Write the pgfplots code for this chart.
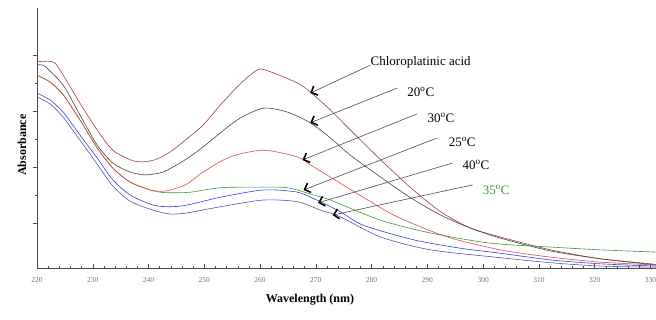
\documentclass[border=0pt]{standalone}
\usepackage{fontspec}
\setmainfont{Liberation Serif}
\usepackage{pgfplots}
\pgfplotsset{compat=1.18}
\usetikzlibrary{arrows.meta}
\definecolor{cbrown}{RGB}{160,60,60}
\definecolor{cgray}{RGB}{70,70,70}
\definecolor{cred}{RGB}{230,70,70}
\definecolor{cgreen}{RGB}{60,150,60}
\definecolor{cblue}{RGB}{60,60,220}
\definecolor{cblue2}{RGB}{90,80,170}
\begin{document}
\begin{tikzpicture}
\begin{axis}[
  scale only axis, width=619pt, height=260pt,
  xmin=220, xmax=331, ymin=0.196, ymax=4.84,
  axis x line*=bottom, axis y line*=left,
  axis line style={black!70, line width=0.5pt},
  xtick={220,230,...,330},
  minor x tick num=4,
  ytick={1,2,3,4}, yticklabels={},
  minor y tick num=1,
  tick align=outside,
  major tick length=4pt, minor tick length=2pt,
  major x tick style={yshift=4pt},
  minor x tick style={yshift=2pt},
  tick style={black!70, line width=0.4pt},
  /pgf/number format/assume math mode=true,
  /pgf/number format/1000 sep={},
  xticklabel style={font=\fontsize{7.5}{8}\selectfont, text=black!55, yshift=-2pt},
  xlabel={\textbf{Wavelength (nm)}},
  ylabel={\textbf{Absorbance}},
  label style={font=\fontsize{12}{14}\selectfont},
  xlabel style={at={(axis description cs:0.441,0)}, anchor=center, yshift=-32pt},
  ylabel style={at={(axis description cs:-0.0242,0.473)}, anchor=center},
  clip=false,
  every axis plot/.append style={line width=0.6pt, smooth, tension=0.45},
]
% Chloroplatinic acid
\addplot[cbrown] coordinates {
(220.0,3.88) (222.0,3.89) (223.2,3.86) (224.7,3.64) (227.7,3.14) (230.8,2.66)
(233.6,2.30) (236.7,2.13) (238.5,2.09) (241.2,2.13) (243.9,2.27) (246.6,2.48)
(249.8,2.75) (252.9,3.11) (255.9,3.43) (258.2,3.64) (260.0,3.75) (262.4,3.68)
(266.7,3.50) (269.0,3.34) (272.6,3.02) (276.2,2.66) (281.6,2.13) (287.0,1.63)
(292.4,1.20) (297.7,0.91) (303.1,0.75) (312.1,0.52) (321.1,0.36) (330.1,0.27) (331,0.25)};
% 20 C
\addplot[cgray] coordinates {
(220.0,3.82) (221.4,3.80) (224.7,3.46) (227.7,2.93) (230.8,2.39) (233.6,2.07)
(236.7,1.91) (239.4,1.86) (242.6,1.91) (246.6,2.13) (249.8,2.36) (255.9,2.84)
(260.6,3.05) (264.9,2.98) (269.0,2.79) (272.6,2.52) (276.2,2.21) (281.6,1.82)
(287.0,1.45) (292.4,1.14) (297.7,0.91) (303.1,0.73) (312.1,0.50) (321.1,0.36) (331,0.25)};
% green
\addplot[cgreen] coordinates {
(220.0,3.64) (222.3,3.52) (224.7,3.29) (227.7,2.84) (230.8,2.34) (233.6,1.98)
(236.7,1.73) (240.3,1.59) (242.1,1.55) (243.9,1.54) (247.5,1.55) (252.9,1.63)
(258.8,1.64) (264.9,1.63) (269.6,1.50) (272.6,1.41) (281.6,1.05) (290.6,0.82)
(301.3,0.64) (312.1,0.57) (321.1,0.52) (331,0.48)};
% 30 C red
\addplot[cred] coordinates {
(220.0,3.64) (222.3,3.52) (224.7,3.29) (227.7,2.84) (230.8,2.34) (233.6,1.98)
(236.7,1.73) (240.3,1.59) (243.0,1.57) (246.6,1.68) (249.8,1.91) (254.6,2.18)
(260.6,2.30) (266.7,2.18) (269.0,2.04) (272.6,1.82) (278.5,1.46) (284.6,1.11)
(293.6,0.75) (303.1,0.52) (312.1,0.39) (321.1,0.30) (331,0.25)};
% blue upper
\addplot[cblue] coordinates {
(220.0,3.32) (222.3,3.20) (224.7,2.98) (227.7,2.57) (230.8,2.16) (233.6,1.77)
(236.7,1.50) (240.8,1.32) (243.9,1.29) (246.9,1.32) (252.9,1.46) (260.6,1.59)
(266.7,1.55) (270.8,1.38) (274.4,1.20) (278.5,0.96) (287.5,0.70) (295.9,0.55)
(303.1,0.46) (312.1,0.34) (321.1,0.27) (331,0.23)};
% blue lower
\addplot[cblue2] coordinates {
(220.0,3.25) (222.3,3.13) (224.7,2.89) (227.7,2.48) (230.8,2.05) (233.6,1.66)
(236.7,1.39) (240.8,1.23) (243.9,1.16) (246.9,1.18) (252.9,1.29) (260.6,1.41)
(266.7,1.38) (270.8,1.23) (274.4,1.11) (281.6,0.75) (290.6,0.52) (303.1,0.38)
(312.1,0.29) (321.1,0.23) (331,0.21)};
% annotations
\begin{scope}[font=\fontsize{13}{15}\selectfont,
  arr/.style={black!70, line width=0.6pt, -{Straight Barb[length=5pt,width=10pt,line width=1.6pt,color=black]}}]
\draw[arr] (axis cs:279.8,3.82) -- (axis cs:269.0,3.32);
\node[anchor=west, inner sep=0pt] at (axis cs:279.8,3.86) {Chloroplatinic acid};
\draw[arr] (axis cs:284.6,3.41) -- (axis cs:269.0,2.79);
\node[anchor=west, inner sep=0pt] at (axis cs:286.4,3.34) {20\textsuperscript{o}C};
\draw[arr] (axis cs:288.2,2.95) -- (axis cs:267.6,2.125);
\node[anchor=west, inner sep=0pt] at (axis cs:290.0,2.875) {30\textsuperscript{o}C};
\draw[arr] (axis cs:291.8,2.52) -- (axis cs:267.8,1.59);
\node[anchor=west, inner sep=0pt] at (axis cs:293.8,2.45) {25\textsuperscript{o}C};
\draw[arr] (axis cs:294.5,2.07) -- (axis cs:270.4,1.36);
\node[anchor=west, inner sep=0pt] at (axis cs:296.3,2.04) {40\textsuperscript{o}C};
\draw[arr] (axis cs:298.1,1.68) -- (axis cs:273.0,1.14);
\node[anchor=west, inner sep=0pt, text=cgreen] at (axis cs:299.9,1.59) {35\textsuperscript{o}C};
\end{scope}
\end{axis}
\pgfresetboundingbox
\useasboundingbox ([xshift=-37pt,yshift=-52pt]current axis.south west) rectangle ([yshift=8pt]current axis.north east);
\end{tikzpicture}
\end{document}
